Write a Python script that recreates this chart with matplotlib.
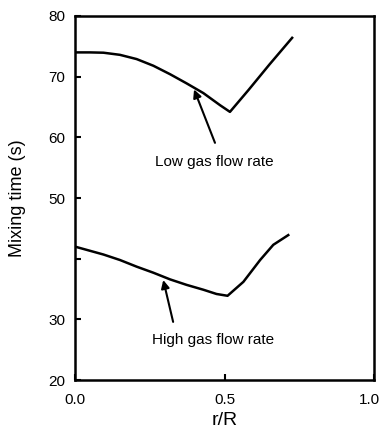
import matplotlib
matplotlib.use("Agg")
import matplotlib.pyplot as plt
import matplotlib.transforms as mtransforms

plt.rcParams['font.family'] = ['Liberation Sans', 'DejaVu Sans']

# Data
r_low = [0.0, 0.05, 0.095, 0.15, 0.206, 0.262, 0.318, 0.373, 0.429, 0.485, 0.518,
         0.58, 0.65, 0.726]
t_low = [74.0, 74.0, 73.95, 73.6, 72.9, 71.8, 70.4, 68.9, 67.3, 65.3, 64.2,
         67.8, 72.0, 76.4]

r_high = [0.0, 0.095, 0.15, 0.206, 0.262, 0.318, 0.373, 0.429, 0.473, 0.51,
          0.563, 0.619, 0.663, 0.713]
t_high = [42.0, 40.7, 39.8, 38.7, 37.7, 36.6, 35.7, 34.9, 34.2, 33.9,
          36.2, 39.8, 42.3, 43.9]

yticks = [20, 30, 40, 50, 60, 70, 80]
ytick_labels = ['20', '30', '', '50', '60', '70', '80']
xticks = [0.0, 0.5, 1.0]
xtick_labels = ['0.0', '0.5', '1.0']

fig = plt.figure(figsize=(3.79, 4.32), dpi=100)
ax = fig.add_axes([0.198, 0.120, 0.789, 0.843])

ax.plot(r_low, t_low, color='black', lw=1.8, solid_joinstyle='round')
ax.plot(r_high, t_high, color='black', lw=1.8, solid_joinstyle='round')

ax.set_xlim(0, 1.0)
ax.set_ylim(20, 80)
ax.set_xticks(xticks)
ax.set_xticklabels(xtick_labels)
ax.set_yticks(yticks)
ax.set_yticklabels(ytick_labels)
ax.tick_params(direction='in', length=4, width=1.5, labelsize=11)
ax.tick_params(axis='x', pad=9)
ax.tick_params(axis='y', pad=7)
for s in ax.spines.values():
    s.set_linewidth(1.8)

# shift last x tick label slightly left so it fits
lbl = ax.get_xticklabels()[-1]
lbl.set_transform(lbl.get_transform() + mtransforms.ScaledTranslation(-5 / 100, 0, fig.dpi_scale_trans))

ax.set_xlabel('r/R', fontsize=14, labelpad=4)
ax.set_ylabel('Mixing time (s)', fontsize=13, labelpad=16)

arrow = dict(arrowstyle='-|>', color='black', lw=1.5, mutation_scale=12, shrinkA=0, shrinkB=0)
ax.annotate('', xy=(0.398, 67.9), xytext=(0.468, 59.1), arrowprops=arrow)
ax.text(0.465, 55.9, 'Low gas flow rate', fontsize=11, ha='center', va='center')
ax.annotate('', xy=(0.295, 36.5), xytext=(0.328, 29.6), arrowprops=arrow)
ax.text(0.463, 26.6, 'High gas flow rate', fontsize=11, ha='center', va='center')

fig.savefig('out.png', dpi=100)
